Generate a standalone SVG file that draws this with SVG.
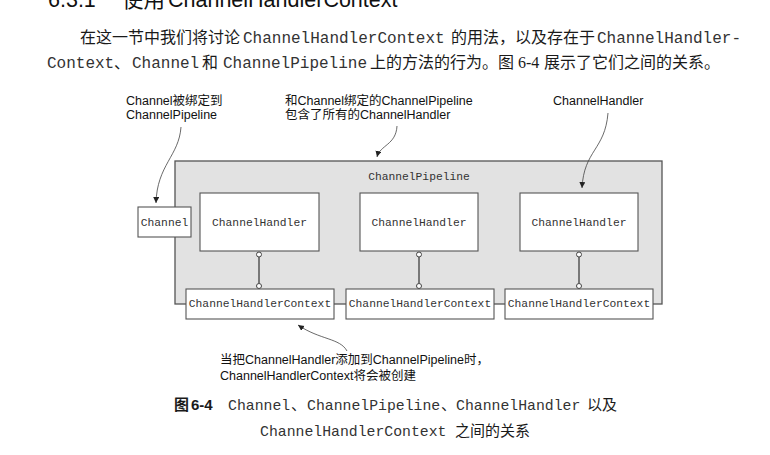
<svg xmlns="http://www.w3.org/2000/svg" width="770" height="455" viewBox="0 0 770 455">
  <style>
    .cjk { font-family: "Liberation Serif", "Noto Sans CJK SC", serif; font-size: 16px; fill: #1a1a1a; }
    .mono { font-family: "Liberation Mono", "Noto Sans CJK SC", monospace; fill: #333; }
    .body-mono { font-size: 16px; }
    .box { fill: #fff; stroke: #555; stroke-width: 1.1; }
    .node-text { font-family: "Liberation Mono", monospace; font-size: 11.3px; fill: #333; text-anchor: middle; }
    .note { font-family: "Liberation Sans", "Noto Sans CJK SC", sans-serif; font-size: 12.5px; fill: #111; }
    .curve { fill: none; stroke: #444; stroke-width: 0.8; }
    .link { stroke: #555; stroke-width: 1.5; }
    .dot { fill: #fff; stroke: #444; stroke-width: 1; }
    .cap-cjk { font-family: "Noto Sans CJK SC", sans-serif; font-size: 15px; fill: #1a1a1a; }
    .cap-mono { font-family: "Liberation Mono", monospace; font-size: 14.8px; fill: #333; }
  </style>
  <defs>
    <marker id="arrow" markerUnits="userSpaceOnUse" markerWidth="7" markerHeight="7" refX="6" refY="3" orient="auto">
      <path d="M0,0 L6,3 L0,6 z" fill="#222"/>
    </marker>
  </defs>
  <rect width="770" height="455" fill="#fff"/>

  <!-- heading (cut off at top) -->
  <g id="heading" font-family="Liberation Sans, Noto Sans CJK SC, sans-serif" font-size="21.5" fill="#111">
    <text x="48" y="7">6.3.1</text>
    <text x="122" y="7" font-family="Noto Sans CJK SC, sans-serif">使用</text>
    <text x="168" y="7">ChannelHandlerContext</text>
  </g>

  <!-- body paragraph -->
  <g id="paragraph">
    <text class="cjk" x="80" y="43">在这一节中我们将讨论</text>
    <text class="mono body-mono" x="243" y="43">ChannelHandlerContext</text>
    <text class="cjk" x="451" y="43">的用法，以及存在于</text>
    <text class="mono body-mono" x="597" y="43">ChannelHandler-</text>
    <text class="mono body-mono" x="47" y="68">Context</text>
    <text class="cjk" x="114" y="68">、</text>
    <text class="mono body-mono" x="132" y="68">Channel</text>
    <text class="cjk" x="202" y="68">和</text>
    <text class="mono body-mono" x="223" y="68">ChannelPipeline</text>
    <text class="cjk" x="370" y="68">上的方法的行为。图</text>
    <text class="cjk" x="518" y="68" font-family="Liberation Serif, serif">6-4</text>
    <text class="cjk" x="544" y="68">展示了它们之间的关系。</text>
  </g>

  <!-- pipeline container -->
  <g id="channel-pipeline">
    <rect x="175" y="161" width="487" height="143" fill="#e2e2e2" stroke="#555" stroke-width="1.3"/>
    <text class="node-text" x="419" y="180">ChannelPipeline</text>
  </g>

  <g id="channel">
    <rect class="box" x="138" y="207" width="53" height="30"/>
    <text class="node-text" x="164.5" y="226">Channel</text>
  </g>

  <g id="handler-1">
    <rect class="box" x="200" y="193" width="119" height="58"/>
    <text class="node-text" x="259.5" y="226">ChannelHandler</text>
  </g>
  <g id="handler-2">
    <rect class="box" x="360" y="193" width="118" height="58"/>
    <text class="node-text" x="419" y="226">ChannelHandler</text>
  </g>
  <g id="handler-3">
    <rect class="box" x="520" y="193" width="118" height="58"/>
    <text class="node-text" x="579" y="226">ChannelHandler</text>
  </g>

  <g id="context-1">
    <rect class="box" x="186" y="289" width="148" height="30"/>
    <text class="node-text" x="260" y="307">ChannelHandlerContext</text>
  </g>
  <g id="context-2">
    <rect class="box" x="346" y="289" width="148" height="30"/>
    <text class="node-text" x="420" y="307">ChannelHandlerContext</text>
  </g>
  <g id="context-3">
    <rect class="box" x="505" y="289" width="148" height="30"/>
    <text class="node-text" x="579" y="307">ChannelHandlerContext</text>
  </g>

  <!-- connectors -->
  <g id="connectors">
    <line class="link" x1="259" y1="257" x2="259" y2="283.5"/>
    <circle class="dot" cx="259" cy="254.5" r="2.5"/>
    <circle class="dot" cx="259" cy="286" r="2.5"/>
    <line class="link" x1="419" y1="257" x2="419" y2="283.5"/>
    <circle class="dot" cx="419" cy="254.5" r="2.5"/>
    <circle class="dot" cx="419" cy="286" r="2.5"/>
    <line class="link" x1="579" y1="257" x2="579" y2="283.5"/>
    <circle class="dot" cx="579" cy="254.5" r="2.5"/>
    <circle class="dot" cx="579" cy="286" r="2.5"/>

    <path class="curve" d="M181,127 C179,156 157,165 156,203" marker-end="url(#arrow)"/>
    <path class="curve" d="M397,126 C396,145 380,145 377,157" marker-end="url(#arrow)"/>
    <path class="curve" d="M608,113 C605,150 584,150 582,188" marker-end="url(#arrow)"/>
    <path class="curve" d="M347,351 C340,338 320,340 298,325" marker-end="url(#arrow)"/>
  </g>

  <!-- annotations -->
  <g id="note-channel">
    <text class="note" x="126" y="105">Channel被绑定到</text>
    <text class="note" x="126" y="119">ChannelPipeline</text>
  </g>
  <g id="note-pipeline">
    <text class="note" x="285" y="105">和Channel绑定的ChannelPipeline</text>
    <text class="note" x="285" y="119">包含了所有的ChannelHandler</text>
  </g>
  <g id="note-handler">
    <text class="note" x="553" y="105">ChannelHandler</text>
  </g>
  <g id="note-context">
    <text class="note" x="220" y="364">当把ChannelHandler添加到ChannelPipeline时，</text>
    <text class="note" x="220" y="380">ChannelHandlerContext将会被创建</text>
  </g>

  <!-- caption -->
  <g id="caption">
    <text class="cap-cjk" x="174" y="410" font-weight="bold">图</text>
    <text x="191" y="410" font-family="Liberation Sans, sans-serif" font-size="15" font-weight="bold" fill="#1a1a1a">6-4</text>
    <text class="cap-mono" x="228" y="410">Channel</text>
    <text class="cap-cjk" x="291" y="410">、</text>
    <text class="cap-mono" x="307" y="410">ChannelPipeline</text>
    <text class="cap-cjk" x="441" y="410">、</text>
    <text class="cap-mono" x="456" y="410">ChannelHandler</text>
    <text class="cap-cjk" x="587" y="410">以及</text>
    <text class="cap-mono" x="260" y="436">ChannelHandlerContext</text>
    <text class="cap-cjk" x="455" y="436">之间的关系</text>
  </g>
</svg>
